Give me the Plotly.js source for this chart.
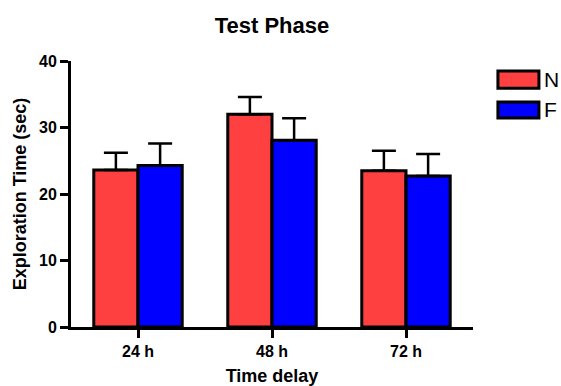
<!DOCTYPE html>
<html>
<head>
<meta charset="utf-8">
<script src="https://cdn.plot.ly/plotly-3.0.1.min.js"></script>
<style>html,body{margin:0;padding:0;background:#fff;}#chart{width:561px;height:386px;}</style>
</head>
<body>
<div id="chart"></div>
<script>
const categories = ["24 h", "48 h", "72 h"];
const seriesNames = ["N", "F"];
const valuesN = [23.6, 32.0, 23.5];
const errorsN = [2.6, 2.6, 3.0];
const valuesF = [24.3, 28.1, 22.7];
const errorsF = [3.3, 3.3, 3.3];
const yTicks = [0, 10, 20, 30, 40];
const colorN = "#FF4040";
const colorF = "#0000FF";

const FONT = "Liberation Sans, Arial, sans-serif";

function barTrace(name, vals, errs, color) {
  return {
    type: "bar",
    name: name,
    x: categories,
    y: vals,
    marker: { color: color, line: { color: "#000", width: 3 } },
    error_y: {
      type: "data", symmetric: false, array: errs,
      arrayminus: errs.map(() => 0),
      color: "#000", thickness: 2.5, width: 12
    },
    showlegend: false
  };
}

const data = [
  barTrace(seriesNames[0], valuesN, errorsN, colorN),
  barTrace(seriesNames[1], valuesF, errorsF, colorF)
];

const legendColors = [colorN, colorF];
const shapes = [];
const annotations = [];
const rowY = [[0.898, 0.962], [0.786, 0.846]];
seriesNames.forEach((n, i) => {
  shapes.push({
    type: "rect", xref: "paper", yref: "paper",
    x0: 1.062, x1: 1.164, y0: rowY[i][0], y1: rowY[i][1],
    fillcolor: legendColors[i], line: { color: "#000", width: 3 }
  });
  annotations.push({
    xref: "paper", yref: "paper", x: 1.172, y: (rowY[i][0] + rowY[i][1]) / 2,
    xanchor: "left", yanchor: "middle", showarrow: false, text: n,
    font: { family: FONT, size: 21, color: "#000" }
  });
});

const layout = {
  width: 561, height: 386,
  margin: { l: 71, r: 88, t: 61, b: 59, pad: 0 },
  paper_bgcolor: "#fff", plot_bgcolor: "#fff",
  barmode: "group", bargap: 0.34, bargroupgap: 0,
  title: {
    text: "Test Phase", x: 0.5, xref: "paper", xanchor: "center",
    y: 1 - 25 / 386, yref: "container", yanchor: "middle",
    font: { family: FONT, size: 22, weight: "bold", color: "#000" }
  },
  xaxis: {
    range: [-0.5, 2.5], showline: true, linecolor: "#000", linewidth: 3,
    ticks: "outside", ticklen: 8, tickwidth: 3, tickcolor: "#000",
    showgrid: false, zeroline: false,
    tickfont: { family: FONT, size: 16, weight: "bold", color: "#000" },
    title: { text: "Time delay", standoff: 12,
      font: { family: FONT, size: 18, weight: "bold", color: "#000" } }
  },
  yaxis: {
    range: [0, 40], tickvals: yTicks, showline: true, linecolor: "#000", linewidth: 3,
    ticks: "outside", ticklen: 8, tickwidth: 3, tickcolor: "#000",
    showgrid: false, zeroline: false,
    tickfont: { family: FONT, size: 16, weight: "bold", color: "#000" },
    title: { text: "Exploration Time (sec)", standoff: 8,
      font: { family: FONT, size: 18, weight: "bold", color: "#000" } }
  },
  shapes: shapes,
  annotations: annotations
};

Plotly.newPlot("chart", data, layout, { displayModeBar: false, staticPlot: true });
</script>
</body>
</html>
